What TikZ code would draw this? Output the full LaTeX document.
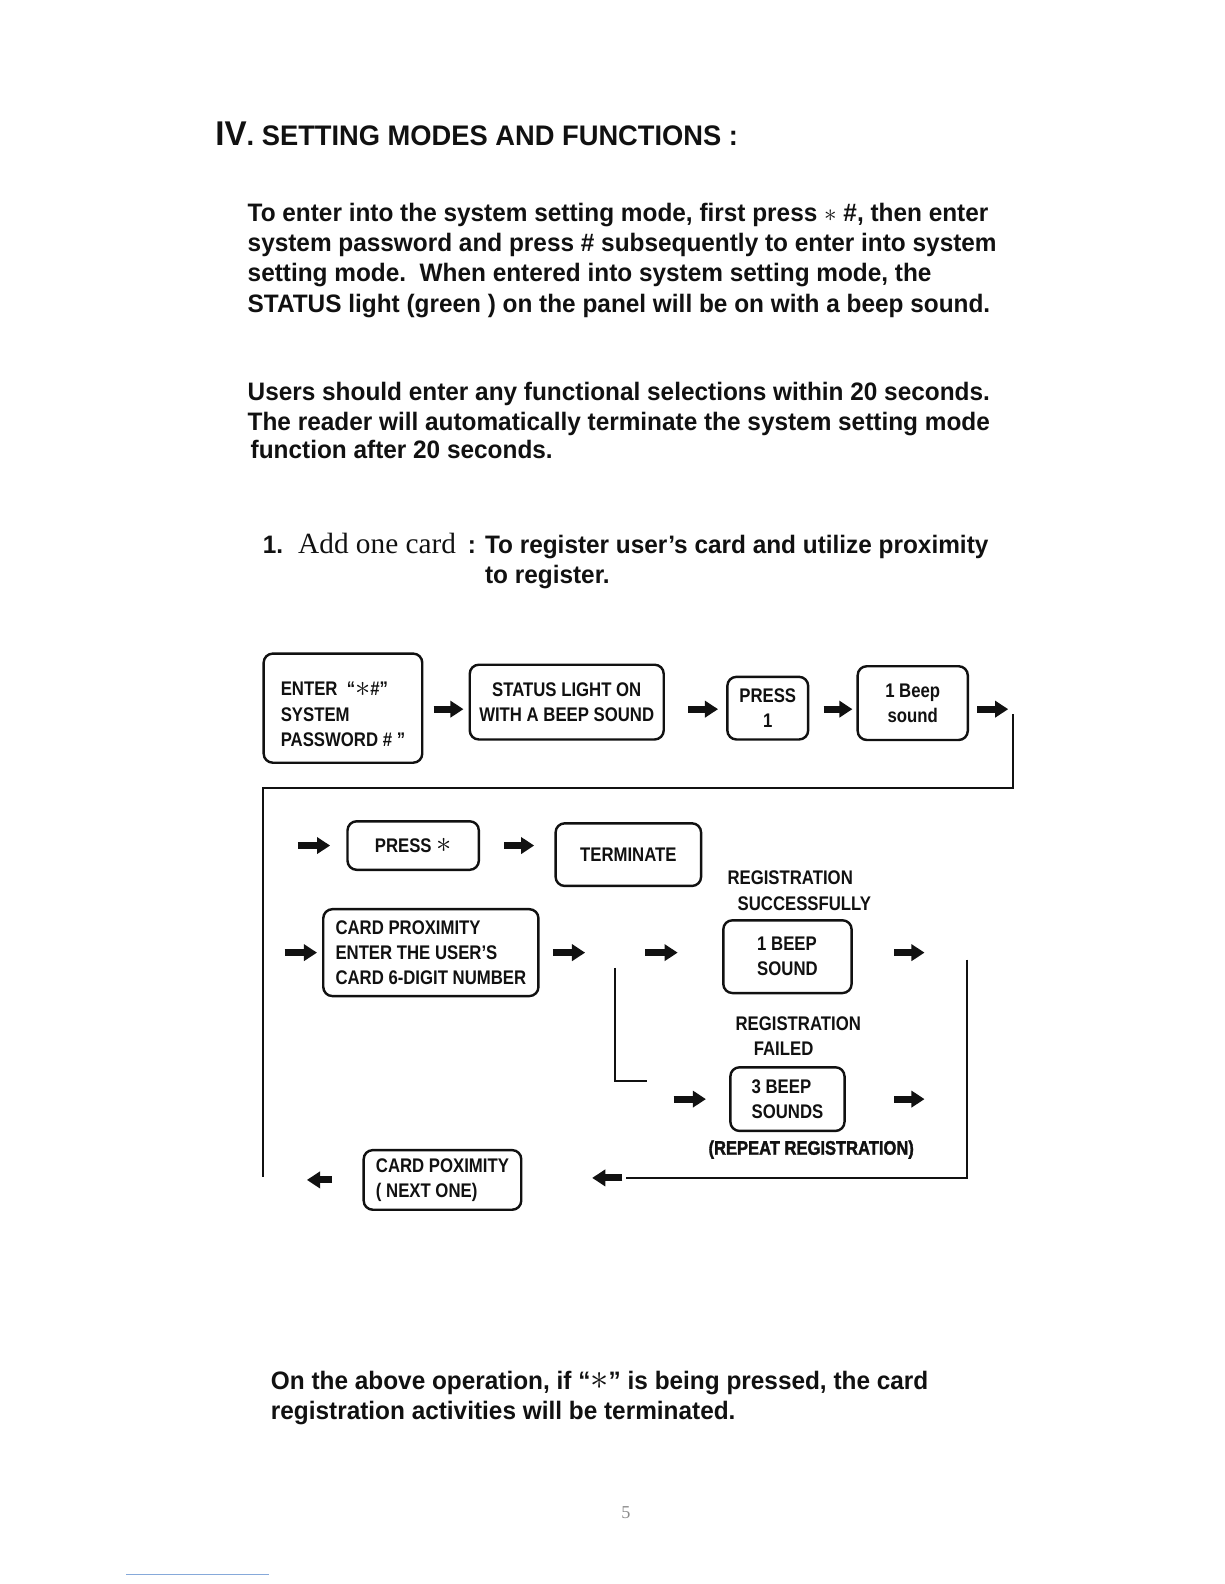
\documentclass[tikz,border=0pt]{standalone}
\usepackage{fontspec}
\setmainfont[FakeStretch=0.965]{Liberation Sans}
\newfontfamily\narrowsans[FakeStretch=0.85]{Liberation Sans}
\newfontfamily\heavysans[FakeStretch=0.84, FakeBold=1.6]{Liberation Sans}
\newfontfamily\cardserif{Liberation Serif}
\usepackage{xcolor}
\definecolor{ink}{HTML}{111111}
\definecolor{pagegrey}{HTML}{8C8C8C}
\definecolor{linkblue}{HTML}{86A9DA}
\usetikzlibrary{arrows.meta, positioning, calc}
\newcommand\keystar{\raisebox{-0.5pt}{\scalebox{1.45}{$\ast$}}}

\begin{document}
\begin{tikzpicture}[
  x=1pt, y=-1pt,
  keybox/.style={draw=ink, line width=2.4pt, rounded corners=9pt, inner sep=0pt,
    align=#1, font=\narrowsans\fontsize{19.5}{25}\selectfont\bfseries, text=ink},
  keybox/.default=center,
  para/.style={anchor=base west, inner sep=0pt, font=\fontsize{25}{30}\selectfont\bfseries, text=ink},
  lbl/.style={inner sep=0pt, align=left, font=\narrowsans\fontsize{19.5}{25}\selectfont\bfseries, text=ink},
  wire/.style={draw=ink, line width=2pt},
  fat/.style={draw=ink, line width=7pt, -{Triangle[length=13pt, width=16pt]}},
]
  \fill[white] (0,0) rectangle (1212,1568);
  \useasboundingbox (0,0) rectangle (1212,1568);

  \node[para, font=\fontsize{28}{32}\selectfont\bfseries] (title) at (213,144)
    {{\fontsize{34}{32}\selectfont IV}. SETTING MODES AND FUNCTIONS :};

  \node[para] (introA) at (245,219) {To enter into the system setting mode, first press $\ast$ \#, then enter};
  \node[para] (introB) at (245,249) {system password and press \# subsequently to enter into system};
  \node[para] (introC) at (245,279) {setting mode.\ \ When entered into system setting mode, the};
  \node[para] (introD) at (245,309) {STATUS light (green ) on the panel will be on with a beep sound.};

  \node[para] (timeA) at (245,396) {Users should enter any functional selections within 20 seconds.};
  \node[para] (timeB) at (245,426) {The reader will automatically terminate the system setting mode};
  \node[para] (timeC) at (248,454) {function after 20 seconds.};

  \node[para] (itemno) at (260,548) {1.};
  \node[para, font=\cardserif\fontsize{29}{30}\selectfont] (itemname) at (295,548) {Add one card};
  \node[para] (itemA) at (463,548) {: To register user’s card and utilize proximity};
  \node[para] (itemB) at (480,578) {to register.};

  \node[keybox=left, minimum width=157pt, minimum height=108pt] (enter) at (339.5,701)
    {\rule{0pt}{26pt}ENTER\ \ “\keystar\#”\\SYSTEM\\PASSWORD \# ”};
  \node[keybox, minimum width=192pt, minimum height=74pt] (status) at (561,695)
    {STATUS LIGHT ON\\WITH A BEEP SOUND};
  \node[keybox, minimum width=80pt, minimum height=62pt] (press1) at (760,701) {PRESS\\1};
  \node[keybox, minimum width=109pt, minimum height=73pt] (beep1) at (903.5,696) {1 Beep\\sound};

  \coordinate (rowOne) at (0,702);
  \draw[fat] ([xshift=10pt]enter.east |- rowOne) -- ([xshift=-5pt]status.west |- rowOne);
  \draw[fat] ([xshift=23pt]status.east |- rowOne) -- ([xshift=-8pt]press1.west |- rowOne);
  \draw[fat] ([xshift=14pt]press1.east |- rowOne) -- ([xshift=-4pt]beep1.west |- rowOne);
  \coordinate (loopA) at (998,702);
  \draw[fat] ([xshift=8pt]beep1.east |- loopA) -- (loopA);

  \coordinate (loopB) at (1003,707);
  \coordinate (loopC) at (1003,780);
  \coordinate (loopD) at (260,780);
  \coordinate (loopE) at (260,1165);
  \draw[wire] (loopB) -- (loopC) -- (loopD) -- (loopE);

  \node[keybox, minimum width=130pt, minimum height=48pt] (pressast) at (409,837) {PRESS \keystar};
  \node[keybox, minimum width=144pt, minimum height=62pt] (terminate) at (622,846) {TERMINATE};
  \draw[fat] ([xshift=-48pt]pressast.west) -- ([xshift=-16pt]pressast.west);
  \draw[fat] ([xshift=24pt]pressast.east) -- ([xshift=-20pt]pressast.east -| terminate.west);

  \node[lbl, anchor=north west] (regok) at (720,862) {REGISTRATION\\\hspace*{10pt}SUCCESSFULLY};

  \node[keybox=left, minimum width=213pt, minimum height=86pt] (cardprox) at (426.5,943)
    {CARD PROXIMITY\\ENTER THE USER’S\\CARD 6-DIGIT NUMBER};
  \node[keybox=left, minimum width=127pt, minimum height=72pt] (beep1ok) at (779.5,947) {1 BEEP\\SOUND};
  \draw[fat] ([xshift=-37pt]cardprox.west) -- ([xshift=-5pt]cardprox.west);
  \draw[fat] ([xshift=13pt]cardprox.east) -- ([xshift=45pt]cardprox.east);
  \draw[fat] ([xshift=-76pt]beep1ok.west |- cardprox.east) -- ([xshift=-44pt]beep1ok.west |- cardprox.east);
  \draw[fat] ([xshift=41pt]beep1ok.east |- cardprox.east) -- ([xshift=71pt]beep1ok.east |- cardprox.east);

  \coordinate (splitTop) at (609,958);
  \coordinate (splitBot) at (609,1070);
  \coordinate (splitEnd) at (640,1070);
  \draw[wire] (splitTop) -- (splitBot) -- (splitEnd);

  \node[lbl, anchor=north west] (regfail) at (728,1006) {REGISTRATION\\\hspace*{18pt}FAILED};
  \node[keybox=left, minimum width=113pt, minimum height=63pt] (beep3) at (779.5,1088) {3 BEEP\\SOUNDS};
  \draw[fat] ([xshift=-55pt]beep3.west) -- ([xshift=-23pt]beep3.west);
  \draw[fat] ([xshift=48pt]beep3.east) -- ([xshift=78pt]beep3.east);
  \node[lbl, font=\heavysans\fontsize{19.5}{25}\selectfont\bfseries] (repeat) at (803,1138) {(REPEAT REGISTRATION)};

  \coordinate (retTop) at (957,950);
  \coordinate (retBot) at (957,1166);
  \coordinate (retEnd) at (620,1166);
  \draw[wire] (retTop) -- (retBot) -- (retEnd);

  \node[keybox=left, minimum width=156pt, minimum height=59pt] (nextcard) at (438,1168)
    {CARD POXIMITY\\( NEXT ONE)};
  \draw[fat] ([xshift=99pt]nextcard.east |- retEnd) -- ([xshift=69pt]nextcard.east |- retEnd);
  \draw[fat] ([xshift=-30pt]nextcard.west) -- ([xshift=-55pt]nextcard.west);

  \node[para] (noteA) at (268,1375) {On the above operation, if “\keystar” is being pressed, the card};
  \node[para] (noteB) at (268,1405) {registration activities will be terminated.};

  \node[para, font=\cardserif\fontsize{18}{20}\selectfont, text=pagegrey] (pageno) at (615,1503) {5};
  \draw[linkblue, line width=1pt] (125,1559) -- (266,1559);
\end{tikzpicture}
\end{document}
